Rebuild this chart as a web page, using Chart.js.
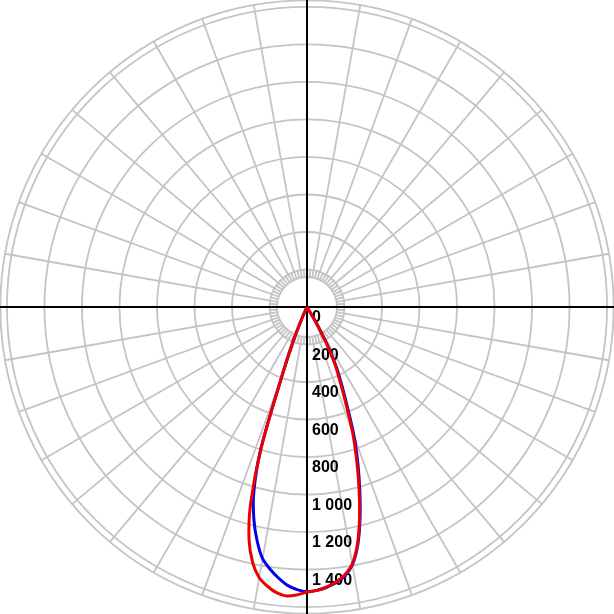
<!DOCTYPE html>
<html>
<head>
<meta charset="utf-8">
<script src="https://cdn.jsdelivr.net/npm/chart.js@4/dist/chart.umd.min.js"></script>
<style>
  html, body { margin: 0; padding: 0; background: #fff; }
  canvas { display: block; }
</style>
</head>
<body>
<canvas id="polar-chart" width="614" height="614"></canvas>
<script>
// angles in degrees from nadir, negative = left half, positive = right half
const angles = [-26, -24, -22, -20, -18, -16, -14, -12, -10, -8, -6, -4, -2, 0,
    2, 4, 6, 8, 10, 12, 14, 16, 18, 20, 22, 24, 26, 28, 30, 32];

// luminous intensity (cd)
const redValues = [0, 60, 200, 385, 795, 1092, 1278, 1393, 1466, 1505, 1533, 1545, 1536, 1520,
    1512, 1497, 1475, 1443, 1390, 1293, 1158, 1006, 856, 710, 550, 430, 340, 230, 100, 0];
const blueValues = [0, 60, 200, 385, 800, 1030, 1170, 1277, 1363, 1412, 1453, 1488, 1508, 1518,
    1512, 1498, 1478, 1448, 1395, 1300, 1168, 1022, 878, 735, 575, 455, 360, 245, 105, 0];

// rings of the grid and their labels
const ringValues = [200, 400, 600, 800, 1000, 1200, 1400, 1600];
const tickValues = [0, 200, 400, 600, 800, 1000, 1200, 1400];
const tickLabels = ['0', '200', '400', '600', '800', '1 000', '1 200', '1 400'];

const innerRing = 160;
const outerRing = 1635;
const range = 1637;

function toPoints(values) {
    return values.map(function (v, i) {
        const a = angles[i] * Math.PI / 180;
        return { x: v * Math.sin(a), y: -v * Math.cos(a) };
    });
}

const polarGrid = {
    id: 'polarGrid',
    beforeDatasetsDraw(chart) {
        const ctx = chart.ctx;
        const xs = chart.scales.x, ys = chart.scales.y;
        const cx = xs.getPixelForValue(0), cy = ys.getPixelForValue(0);
        const k = Math.abs(xs.getPixelForValue(100) - cx) / 100;
        ctx.save();
        ctx.strokeStyle = '#c4c4c4';
        ctx.lineWidth = 1.8;
        // circles
        ringValues.concat([innerRing, outerRing]).forEach(function (v) {
            ctx.beginPath();
            ctx.arc(cx, cy, v * k, 0, Math.PI * 2);
            ctx.stroke();
        });
        // radial lines every 10 degrees
        for (let d = 0; d < 360; d += 10) {
            const a = d * Math.PI / 180;
            ctx.beginPath();
            ctx.moveTo(cx + Math.cos(a) * innerRing * k, cy + Math.sin(a) * innerRing * k);
            ctx.lineTo(cx + Math.cos(a) * outerRing * k, cy + Math.sin(a) * outerRing * k);
            ctx.stroke();
        }
        // small ticks in the inner ring every 5 degrees
        for (let d = 5; d < 360; d += 10) {
            const a = d * Math.PI / 180;
            ctx.beginPath();
            ctx.moveTo(cx + Math.cos(a) * innerRing * k, cy + Math.sin(a) * innerRing * k);
            ctx.lineTo(cx + Math.cos(a) * 200 * k, cy + Math.sin(a) * 200 * k);
            ctx.stroke();
        }
        // axes
        ctx.strokeStyle = '#000';
        ctx.lineWidth = 2;
        ctx.beginPath();
        ctx.moveTo(0, cy);
        ctx.lineTo(chart.width, cy);
        ctx.moveTo(cx, 0);
        ctx.lineTo(cx, chart.height);
        ctx.stroke();
        // labels
        ctx.fillStyle = '#000';
        ctx.font = 'bold 16px "Liberation Sans", Arial, sans-serif';
        ctx.textAlign = 'left';
        ctx.textBaseline = 'alphabetic';
        tickValues.forEach(function (v, i) {
            ctx.fillText(tickLabels[i], cx + 5, ys.getPixelForValue(-v) + 15);
        });
        ctx.restore();
    }
};

new Chart(document.getElementById('polar-chart').getContext('2d'), {
    type: 'scatter',
    data: {
        datasets: [{
            label: 'C0-C180',
            data: toPoints(redValues),
            showLine: true,
            borderColor: 'rgb(235, 0, 0)',
            borderWidth: 3,
            pointRadius: 0,
            tension: 0.3,
            order: 1
        }, {
            label: 'C90-C270',
            data: toPoints(blueValues),
            showLine: true,
            borderColor: 'rgb(0, 0, 235)',
            borderWidth: 3,
            pointRadius: 0,
            tension: 0.3,
            order: 2
        }]
    },
    options: {
        responsive: false,
        animation: false,
        layout: { padding: 0 },
        plugins: {
            legend: { display: false },
            tooltip: { enabled: false }
        },
        scales: {
            x: { type: 'linear', min: -range, max: range, display: false },
            y: { type: 'linear', min: -range, max: range, display: false }
        }
    },
    plugins: [polarGrid]
});
</script>
</body>
</html>
